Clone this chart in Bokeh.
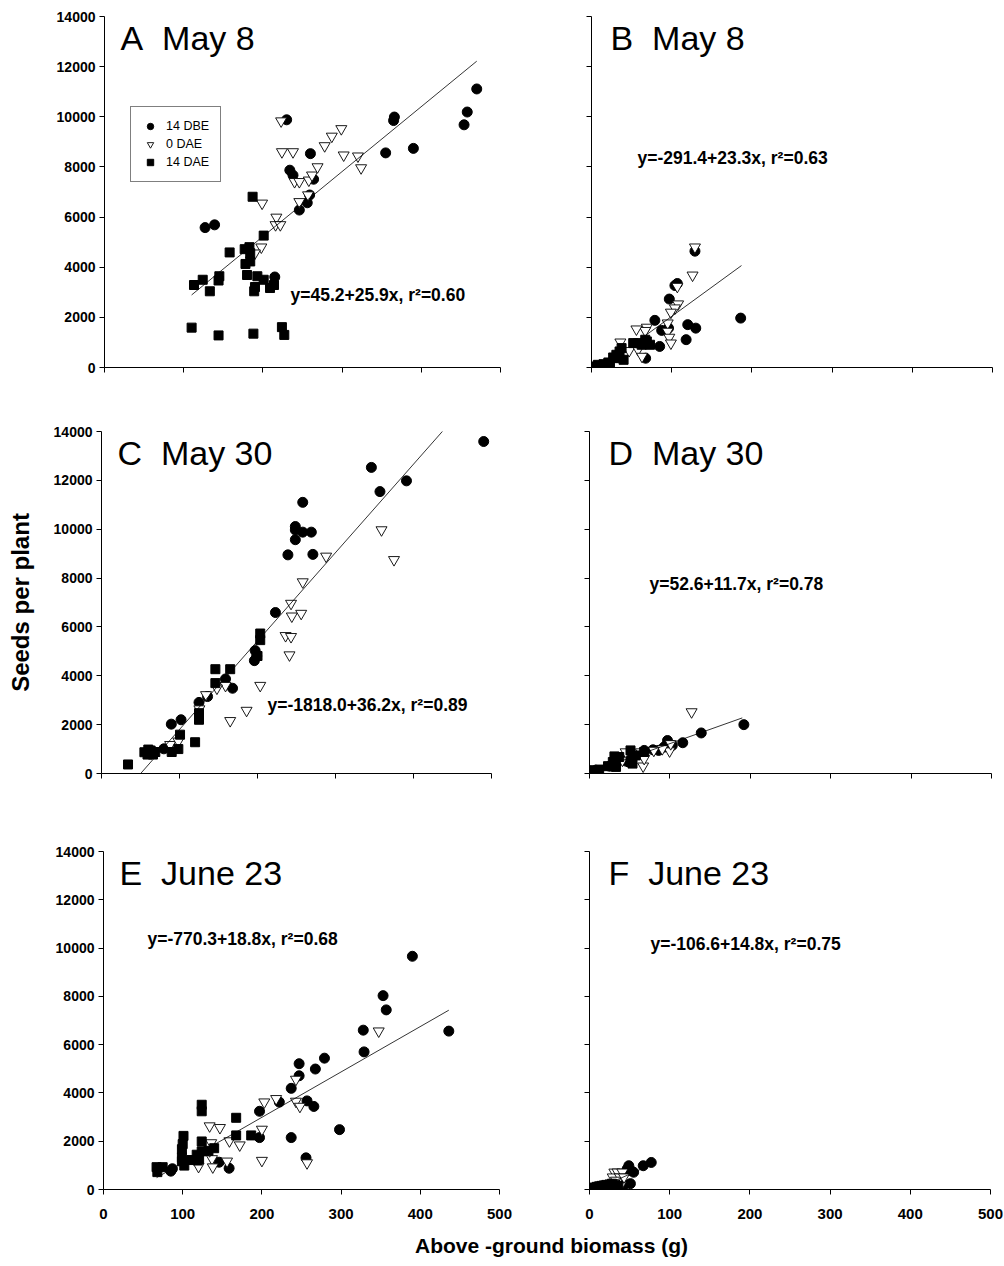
from bokeh.plotting import figure
from bokeh.layouts import column, row
from bokeh.models import Range1d, FixedTicker, Legend, LegendItem, Label
from bokeh.embed import file_html
from bokeh.resources import INLINE

FONT = "Liberation Sans"

# ---------------- data ----------------
x_ticks = [0, 100, 200, 300, 400, 500]
y_ticks = [0, 2000, 4000, 6000, 8000, 10000, 12000, 14000]
series_names = ["14 DBE", "0 DAE", "14 DAE"]

# Panel A  May 8
A_dbe_x = [127, 139, 230, 260, 234, 238, 246, 256, 259, 264, 215, 355, 365, 366, 390, 454, 458, 470]
A_dbe_y = [5580, 5690, 9880, 8530, 7870, 7670, 6280, 6570, 6880, 7510, 3610, 8560, 9850, 9990, 8740, 9680, 10190, 11110]
A_dae0_x = [223, 224, 238, 240, 246, 246, 257, 258, 262, 269, 278, 287, 299, 302, 320, 324, 199, 217, 216, 222, 198, 190]
A_dae0_y = [9830, 8600, 8600, 7410, 7410, 6610, 6880, 7470, 7670, 8000, 8840, 9220, 9520, 8470, 8430, 7960, 6550, 5990, 5690, 5690, 4800, 4560]
A_dae14_x = [187, 201, 158, 177, 183, 184, 178, 184, 180, 193, 201, 189, 190, 209, 214, 113, 124, 133, 145, 144, 110, 144, 188, 224, 227]
A_dae14_y = [6810, 5260, 4590, 4720, 4800, 4560, 4130, 4230, 3690, 3640, 3500, 3040, 3210, 3170, 3290, 3290, 3500, 3040, 3640, 3470, 1590, 1280, 1350, 1610, 1300]

# Panel B  May 8
B_dbe_x = [129, 107, 104, 97, 79, 87.5, 96, 120, 130, 118, 85, 67.5, 186]
B_dbe_y = [4640, 3350, 3270, 2730, 1880, 1480, 1570, 1710, 1570, 1110, 840, 370, 1970]
B_dae0_x = [129, 126, 107, 108, 104, 99, 95, 95, 97, 99, 69, 67, 56, 36, 47, 58, 63]
B_dae0_y = [4800, 3680, 3230, 2530, 2370, 2200, 1770, 1440, 1200, 970, 1600, 1470, 1530, 1010, 670, 710, 440]
B_dae14_x = [2, 8, 15, 21, 27, 31, 35, 37.5, 40, 52, 58, 62.5, 69, 73, 67, 33, 23]
B_dae14_y = [40, 107, 133, 200, 400, 507, 640, 773, 307, 973, 973, 907, 1040, 907, 1107, 373, 107]

# Panel C  May 30
C_dbe_x = [490, 346, 357, 391, 258, 248.5, 248.5, 248.5, 258, 269, 239, 271, 223, 197, 199, 196, 159, 168, 136, 125, 89.5, 102, 80]
C_dbe_y = [13590, 12530, 11540, 11980, 11100, 10110, 9970, 9570, 9880, 9880, 8950, 8970, 6590, 5030, 4810, 4620, 3870, 3490, 3150, 2910, 2020, 2200, 1010]
C_dae0_x = [359, 375, 288, 258, 243, 244, 256, 236, 243, 241, 203.5, 186, 165, 159, 148, 134, 125.5, 88, 98.5]
C_dae0_y = [9970, 8750, 8890, 7840, 6960, 6440, 6550, 5640, 5600, 4850, 3600, 2580, 2160, 3600, 3490, 3220, 2640, 1180, 1320]
C_dae14_x = [34, 55, 59, 63, 66, 69, 60, 90, 98.5, 100.7, 120, 125, 125, 146, 146, 165, 203.5, 203.5, 200]
C_dae14_y = [370, 870, 775, 940, 775, 880, 980, 880, 1000, 1590, 1280, 2470, 2200, 4270, 3700, 4270, 5730, 5460, 4810]

# Panel D  May 30
D_dbe_x = [192, 139, 116, 103, 97, 92.6, 86, 79, 68, 53.5, 45, 33, 25, 8]
D_dbe_y = [2000, 1660, 1260, 1150, 1350, 1080, 945, 970, 945, 650, 510, 405, 300, 135]
D_dae0_x = [127, 99.6, 90.5, 80, 66.7, 45, 41, 64, 101, 68]
D_dae0_y = [2520, 920, 1010, 945, 300, 880, 540, 880, 1215, 610]
D_dae14_x = [0, 6, 12, 23, 29, 31, 37, 51, 53.5, 51, 57.6, 68, 33]
D_dae14_y = [70, 135, 160, 300, 470, 700, 675, 470, 405, 945, 740, 880, 270]

# Panel E  June 23
E_dbe_x = [390, 353, 357, 436, 328, 329, 279, 267.5, 247, 247, 237, 222, 197, 257, 265.6, 197, 237, 298, 255.7, 146, 158.6, 87, 85]
E_dbe_y = [9660, 8030, 7440, 6560, 6600, 5700, 5440, 4990, 5210, 4710, 4190, 3620, 3240, 3670, 3440, 2150, 2150, 2480, 1310, 1130, 880, 860, 760]
E_dae0_x = [243, 203, 218, 243, 248, 134, 147, 136, 159, 172, 200, 200, 156, 137, 138, 120, 134, 257, 347.5]
E_dae0_y = [4560, 3620, 3760, 3650, 3440, 2630, 2560, 1930, 2010, 1840, 2490, 1200, 1170, 1270, 930, 950, 1600, 1100, 6560]
E_dae14_x = [124, 124, 167.5, 167.5, 186.5, 101, 100, 99, 124, 139.7, 132.5, 124, 117.7, 111, 99, 102, 119, 67, 74.7, 68, 99, 120.7]
E_dae14_y = [3510, 3240, 2970, 2240, 2240, 2220, 1880, 1670, 1990, 1710, 1600, 1580, 1440, 1220, 1170, 990, 1200, 925, 925, 720, 1330, 1270]

# Panel F  June 23
F_dbe_x = [77, 67, 49, 52, 55, 51, 47, 43]
F_dbe_y = [1120, 985, 985, 780, 715, 243, 850, 175]
F_dae0_x = [31, 35, 41, 29, 38, 33, 39, 43]
F_dae0_y = [715, 715, 715, 513, 513, 378, 175, 513]
F_dae14_x = [1, 3, 6, 9, 12, 15, 18, 21, 25, 28, 32, 36, 10, 20]
F_dae14_y = [40, 60, 80, 110, 130, 150, 170, 190, 210, 240, 200, 150, 60, 100]

panel_titles = ["A\u00a0 May 8", "B\u00a0 May 8", "C\u00a0 May 30", "D\u00a0 May 30",
                "E\u00a0 June 23", "F\u00a0 June 23"]
equations = ["y=45.2+25.9x, r\u00b2=0.60", "y=-291.4+23.3x, r\u00b2=0.63",
             "y=-1818.0+36.2x, r\u00b2=0.89", "y=52.6+11.7x, r\u00b2=0.78",
             "y=-770.3+18.8x, r\u00b2=0.68", "y=-106.6+14.8x, r\u00b2=0.75"]
intercepts = [45.2, -291.4, -1818.0, 52.6, -770.3, -106.6]
slopes = [25.9, 23.3, 36.2, 11.7, 18.8, 14.8]
fit_x_ranges = [[110, 470], [67, 187], [50.2, 438], [5, 190], [67, 436], [10, 75]]

y_axis_title = "Seeds per plant"
x_axis_title = "Above -ground biomass (g)"

# ---------------- layout geometry (pixels) ----------------
COL_L, COL_R = (0, 545), (545, 459)
ROWS = [(0, 400), (400, 420), (820, 410)]
# frame: left, top, width, height (page coordinates)
frames = [(104, 16, 396, 352), (591, 15, 401, 352),
          (101, 431, 390, 343), (589, 430, 402, 343),
          (103, 851, 396, 343), (589, 846, 401, 343)]
eq_pos = [(290, 295), (637, 157), (267, 705), (649, 583), (147, 940), (650, 940)]

panel_data = [
    (A_dbe_x, A_dbe_y, A_dae0_x, A_dae0_y, A_dae14_x, A_dae14_y),
    (B_dbe_x, B_dbe_y, B_dae0_x, B_dae0_y, B_dae14_x, B_dae14_y),
    (C_dbe_x, C_dbe_y, C_dae0_x, C_dae0_y, C_dae14_x, C_dae14_y),
    (D_dbe_x, D_dbe_y, D_dae0_x, D_dae0_y, D_dae14_x, D_dae14_y),
    (E_dbe_x, E_dbe_y, E_dae0_x, E_dae0_y, E_dae14_x, E_dae14_y),
    (F_dbe_x, F_dbe_y, F_dae0_x, F_dae0_y, F_dae14_x, F_dae14_y),
]


def make_panel(i):
    r = i // 2
    c = i % 2
    col_left, col_w = COL_L if c == 0 else COL_R
    row_top, row_h = ROWS[r]
    fl, ft, fw, fh = frames[i]
    p = figure(width=col_w, height=row_h,
               x_range=Range1d(0, 500), y_range=Range1d(0, 14000),
               output_backend="svg", toolbar_location=None,
               min_border_left=fl - col_left,
               min_border_right=col_left + col_w - fl - fw,
               min_border_top=ft - row_top,
               min_border_bottom=row_top + row_h - ft - fh)
    p.xgrid.visible = False
    p.ygrid.visible = False
    p.outline_line_color = None
    p.background_fill_color = "white"
    p.border_fill_color = "white"

    for ax, ticks in ((p.xaxis[0], x_ticks), (p.yaxis[0], y_ticks)):
        ax.ticker = FixedTicker(ticks=ticks, minor_ticks=[])
        ax.axis_line_color = "black"
        ax.axis_line_width = 1
        ax.major_tick_line_color = "black"
        ax.major_tick_out = 5
        ax.major_tick_in = 0
        ax.minor_tick_out = 0
        ax.minor_tick_in = 0
        ax.major_label_text_font = FONT
        ax.major_label_text_font_size = "14px"
        ax.major_label_text_font_style = "bold"
        ax.major_label_text_color = "black"
    p.yaxis[0].major_label_standoff = 4
    p.xaxis[0].major_label_text_font_size = "15px"
    p.xaxis[0].major_label_standoff = 14
    if c == 1:
        p.yaxis[0].major_label_overrides = {t: "" for t in y_ticks}
    if r < 2:
        p.xaxis[0].major_label_overrides = {t: "" for t in x_ticks}

    dbe_x, dbe_y, d0_x, d0_y, d14_x, d14_y = panel_data[i]
    r1 = p.scatter(dbe_x, dbe_y, marker="circle", size=10,
                   fill_color="black", line_color="black")
    r2 = p.scatter(d0_x, d0_y, marker="inverted_triangle", size=11,
                   fill_color="white", line_color="black", line_width=0.9)
    r3 = p.scatter(d14_x, d14_y, marker="square", size=9,
                   fill_color="black", line_color="black")

    lx = fit_x_ranges[i]
    ly = [intercepts[i] + slopes[i] * v for v in lx]
    p.line(lx, ly, line_color="black", line_width=0.8)

    # panel title (position from pixel offsets inside the frame)
    tx = 16 if c == 0 else 19
    tb = 22
    p.add_layout(Label(x=tx * 500.0 / fw, y=(fh - tb) * 14000.0 / fh,
                       text=panel_titles[i], text_font=FONT,
                       text_font_size="34px", text_color="black",
                       text_baseline="alphabetic", text_align="left"))

    ex, ey = eq_pos[i]
    p.add_layout(Label(x=(ex - fl) * 500.0 / fw, y=(ft + fh - ey) * 14000.0 / fh,
                       text=equations[i], text_font=FONT,
                       text_font_size="17.5px", text_font_style="bold",
                       text_color="black", text_baseline="middle",
                       text_align="left"))

    if i == 0:
        legend = Legend(items=[LegendItem(label=series_names[0], renderers=[r1]),
                               LegendItem(label=series_names[1], renderers=[r2]),
                               LegendItem(label=series_names[2], renderers=[r3])],
                        location=(26, 185))
        legend.border_line_color = "black"
        legend.border_line_width = 1
        legend.background_fill_color = "white"
        legend.background_fill_alpha = 1
        legend.label_text_font = FONT
        legend.label_text_font_size = "12.5px"
        legend.label_text_color = "black"
        legend.padding = 11
        legend.spacing = 2
        legend.label_height = 16
        legend.glyph_height = 16
        legend.glyph_width = 16
        legend.label_standoff = 8
        legend.margin = 0
        p.add_layout(legend)

    if i == 2:
        p.yaxis[0].axis_label = y_axis_title
        p.yaxis[0].axis_label_text_font = FONT
        p.yaxis[0].axis_label_text_font_size = "24px"
        p.yaxis[0].axis_label_text_font_style = "bold"
        p.yaxis[0].axis_label_text_color = "black"
        p.yaxis[0].axis_label_standoff = 17
    return p


panels = [make_panel(i) for i in range(6)]

bottom = figure(width=1004, height=36, x_range=Range1d(0, 1004), y_range=Range1d(0, 36),
                output_backend="svg", toolbar_location=None,
                min_border_left=0, min_border_right=0, min_border_top=0, min_border_bottom=0)
bottom.xaxis.visible = False
bottom.yaxis.visible = False
bottom.xgrid.visible = False
bottom.ygrid.visible = False
bottom.outline_line_color = None
bottom.add_layout(Label(x=551, y=21, text=x_axis_title, text_font=FONT,
                        text_font_size="21px", text_font_style="bold",
                        text_color="black", text_align="center", text_baseline="middle"))

layout = column(row(panels[0], panels[1]), row(panels[2], panels[3]),
                row(panels[4], panels[5]), bottom)

open("out.html", "w").write(file_html(layout, INLINE))
